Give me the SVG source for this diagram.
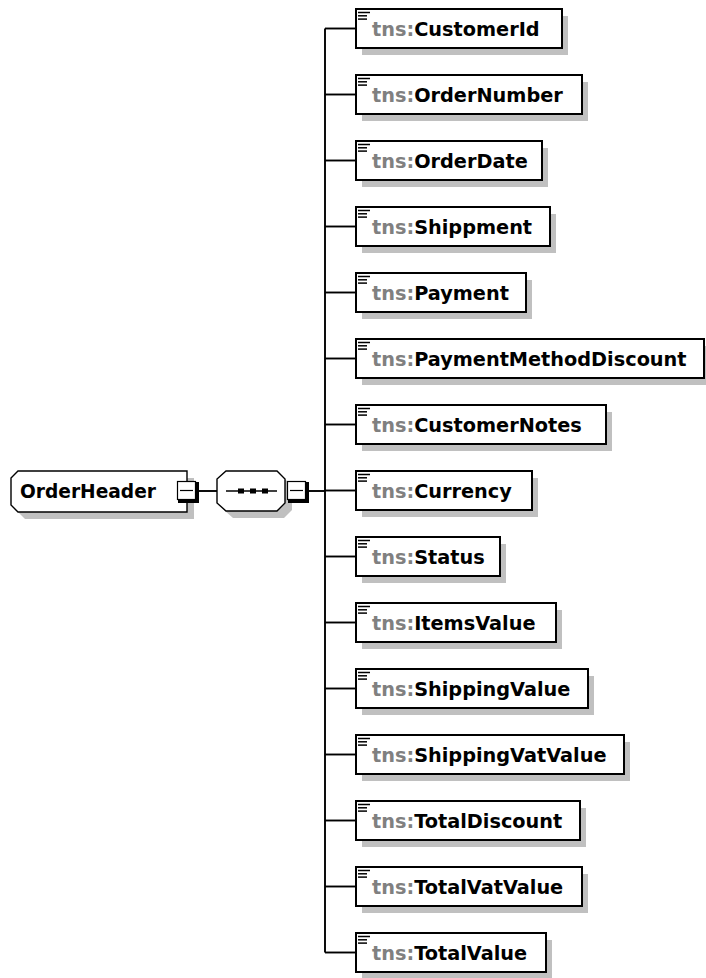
<svg xmlns="http://www.w3.org/2000/svg" width="706" height="978" viewBox="0 0 706 978">
  <style>
    .shadow { fill: #c0c0c0; stroke: none; }
    .box { fill: #ffffff; stroke: #000000; stroke-width: 2; }
    .node { fill: #ffffff; stroke: #000000; stroke-width: 1.4; }
    .wire { fill: none; stroke: #000000; stroke-width: 1.9; }
    .label { font-family: "DejaVu Sans", Verdana, sans-serif; font-weight: bold; font-size: 19.3px; fill: #000000; }
    .ns { fill: #808080; }
    .icon { stroke: #000000; stroke-width: 1.5; }
    .exp-back { fill: #000000; }
    .exp { fill: #ffffff; stroke: #000000; stroke-width: 1.2; }
  </style>
  <defs>
    <!-- small "element" glyph shown in the top-left corner of each element box -->
    <g id="elemIcon">
      <line class="icon" x1="0" y1="0" x2="12" y2="0"/>
      <line class="icon" x1="0" y1="3.3" x2="9" y2="3.3"/>
      <line class="icon" x1="0" y1="6.6" x2="9" y2="6.6"/>
    </g>
    <!-- collapse (minus) toggle -->
    <g id="collapse">
      <rect class="exp-back" x="1" y="1" width="21" height="21"/>
      <rect class="exp" x="0.5" y="0.5" width="18" height="18"/>
      <line x1="3" y1="9.5" x2="16" y2="9.5" stroke="#000" stroke-width="1.2"/>
    </g>
  </defs>

  <!-- connectors -->
  <g id="connectors">
    <line class="wire" x1="196" y1="491" x2="217" y2="491"/>
    <line class="wire" x1="306" y1="491" x2="325" y2="491"/>
    <line class="wire" x1="325" y1="28.5" x2="325" y2="952.5"/>
    <line class="wire" x1="325" y1="28.5" x2="355" y2="28.5"/>
    <line class="wire" x1="325" y1="94.5" x2="355" y2="94.5"/>
    <line class="wire" x1="325" y1="160.5" x2="355" y2="160.5"/>
    <line class="wire" x1="325" y1="226.5" x2="355" y2="226.5"/>
    <line class="wire" x1="325" y1="292.5" x2="355" y2="292.5"/>
    <line class="wire" x1="325" y1="358.5" x2="355" y2="358.5"/>
    <line class="wire" x1="325" y1="424.5" x2="355" y2="424.5"/>
    <line class="wire" x1="325" y1="490.5" x2="355" y2="490.5"/>
    <line class="wire" x1="325" y1="556.5" x2="355" y2="556.5"/>
    <line class="wire" x1="325" y1="622.5" x2="355" y2="622.5"/>
    <line class="wire" x1="325" y1="688.5" x2="355" y2="688.5"/>
    <line class="wire" x1="325" y1="754.5" x2="355" y2="754.5"/>
    <line class="wire" x1="325" y1="820.5" x2="355" y2="820.5"/>
    <line class="wire" x1="325" y1="886.5" x2="355" y2="886.5"/>
    <line class="wire" x1="325" y1="952.5" x2="355" y2="952.5"/>
  </g>

  <!-- root element -->
  <g id="OrderHeader">
    <polygon class="shadow" points="25,478 194,478 194,519 25,519 18,512 18,485"/>
    <polygon class="node" points="18,471 187,471 187,512 18,512 11,505 11,478"/>
    <text class="label" x="20" y="498" textLength="136" lengthAdjust="spacingAndGlyphs">OrderHeader</text>
    <use href="#collapse" x="177" y="481"/>
  </g>

  <!-- sequence compositor -->
  <g id="sequence">
    <polygon class="shadow" points="233,478 284,478 292,486 292,510 284,518 233,518 224,510 224,486"/>
    <polygon class="node" points="226,471 277,471 285,479 285,503 277,511 226,511 217,503 217,479"/>
    <line x1="226" y1="491" x2="277" y2="491" stroke="#000" stroke-width="1.4"/>
    <rect x="238" y="488.5" width="6" height="5" fill="#000"/>
    <rect x="250" y="488.5" width="6" height="5" fill="#000"/>
    <rect x="262" y="488.5" width="6" height="5" fill="#000"/>
    <use href="#collapse" x="287" y="481"/>
  </g>

  <!-- child elements -->
  <g id="CustomerId">
    <rect class="shadow" x="362" y="16" width="206" height="39"/>
    <rect class="box" x="356" y="9" width="206" height="39"/>
    <use href="#elemIcon" x="358" y="12.5"/>
    <text class="label" x="372" y="35.5"><tspan class="ns">tns:</tspan>CustomerId</text>
  </g>
  <g id="OrderNumber">
    <rect class="shadow" x="362" y="82" width="226" height="39"/>
    <rect class="box" x="356" y="75" width="226" height="39"/>
    <use href="#elemIcon" x="358" y="78.5"/>
    <text class="label" x="372" y="101.5"><tspan class="ns">tns:</tspan>OrderNumber</text>
  </g>
  <g id="OrderDate">
    <rect class="shadow" x="362" y="148" width="186" height="39"/>
    <rect class="box" x="356" y="141" width="186" height="39"/>
    <use href="#elemIcon" x="358" y="144.5"/>
    <text class="label" x="372" y="167.5"><tspan class="ns">tns:</tspan>OrderDate</text>
  </g>
  <g id="Shippment">
    <rect class="shadow" x="362" y="214" width="194" height="39"/>
    <rect class="box" x="356" y="207" width="194" height="39"/>
    <use href="#elemIcon" x="358" y="210.5"/>
    <text class="label" x="372" y="233.5"><tspan class="ns">tns:</tspan>Shippment</text>
  </g>
  <g id="Payment">
    <rect class="shadow" x="362" y="280" width="170" height="39"/>
    <rect class="box" x="356" y="273" width="170" height="39"/>
    <use href="#elemIcon" x="358" y="276.5"/>
    <text class="label" x="372" y="299.5"><tspan class="ns">tns:</tspan>Payment</text>
  </g>
  <g id="PaymentMethodDiscount">
    <rect class="shadow" x="362" y="346" width="348" height="39"/>
    <rect class="box" x="356" y="339" width="348" height="39"/>
    <use href="#elemIcon" x="358" y="342.5"/>
    <text class="label" x="372" y="365.5"><tspan class="ns">tns:</tspan>PaymentMethodDiscount</text>
  </g>
  <g id="CustomerNotes">
    <rect class="shadow" x="362" y="412" width="250" height="39"/>
    <rect class="box" x="356" y="405" width="250" height="39"/>
    <use href="#elemIcon" x="358" y="408.5"/>
    <text class="label" x="372" y="431.5"><tspan class="ns">tns:</tspan>CustomerNotes</text>
  </g>
  <g id="Currency">
    <rect class="shadow" x="362" y="478" width="176" height="39"/>
    <rect class="box" x="356" y="471" width="176" height="39"/>
    <use href="#elemIcon" x="358" y="474.5"/>
    <text class="label" x="372" y="497.5"><tspan class="ns">tns:</tspan>Currency</text>
  </g>
  <g id="Status">
    <rect class="shadow" x="362" y="544" width="144" height="39"/>
    <rect class="box" x="356" y="537" width="144" height="39"/>
    <use href="#elemIcon" x="358" y="540.5"/>
    <text class="label" x="372" y="563.5"><tspan class="ns">tns:</tspan>Status</text>
  </g>
  <g id="ItemsValue">
    <rect class="shadow" x="362" y="610" width="200" height="39"/>
    <rect class="box" x="356" y="603" width="200" height="39"/>
    <use href="#elemIcon" x="358" y="606.5"/>
    <text class="label" x="372" y="629.5"><tspan class="ns">tns:</tspan>ItemsValue</text>
  </g>
  <g id="ShippingValue">
    <rect class="shadow" x="362" y="676" width="232" height="39"/>
    <rect class="box" x="356" y="669" width="232" height="39"/>
    <use href="#elemIcon" x="358" y="672.5"/>
    <text class="label" x="372" y="695.5"><tspan class="ns">tns:</tspan>ShippingValue</text>
  </g>
  <g id="ShippingVatValue">
    <rect class="shadow" x="362" y="742" width="268" height="39"/>
    <rect class="box" x="356" y="735" width="268" height="39"/>
    <use href="#elemIcon" x="358" y="738.5"/>
    <text class="label" x="372" y="761.5"><tspan class="ns">tns:</tspan>ShippingVatValue</text>
  </g>
  <g id="TotalDiscount">
    <rect class="shadow" x="362" y="808" width="224" height="39"/>
    <rect class="box" x="356" y="801" width="224" height="39"/>
    <use href="#elemIcon" x="358" y="804.5"/>
    <text class="label" x="372" y="827.5"><tspan class="ns">tns:</tspan>TotalDiscount</text>
  </g>
  <g id="TotalVatValue">
    <rect class="shadow" x="362" y="874" width="226" height="39"/>
    <rect class="box" x="356" y="867" width="226" height="39"/>
    <use href="#elemIcon" x="358" y="870.5"/>
    <text class="label" x="372" y="893.5"><tspan class="ns">tns:</tspan>TotalVatValue</text>
  </g>
  <g id="TotalValue">
    <rect class="shadow" x="362" y="940" width="190" height="39"/>
    <rect class="box" x="356" y="933" width="190" height="39"/>
    <use href="#elemIcon" x="358" y="936.5"/>
    <text class="label" x="372" y="959.5"><tspan class="ns">tns:</tspan>TotalValue</text>
  </g>
</svg>
